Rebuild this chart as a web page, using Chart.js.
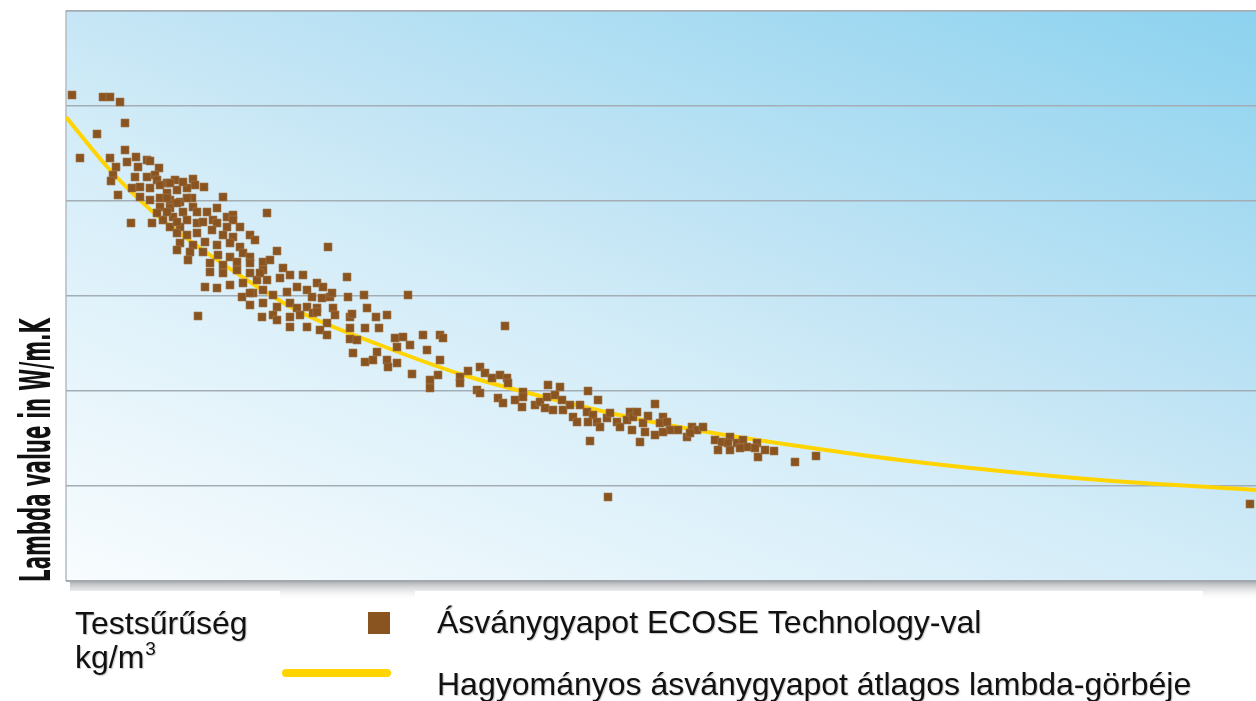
<!DOCTYPE html>
<html>
<head>
<meta charset="utf-8">
<script src="https://cdn.jsdelivr.net/npm/chart.js@4/dist/chart.umd.min.js"></script>
<style>
html,body{margin:0;padding:0;background:#fff;}
#c{display:block;}
</style>
</head>
<body>
<canvas id="c" width="1256" height="701"></canvas>
<script>
// Density (relative units, 0..119) and lambda (relative units, grid step 19)
const ecoseDensity = [
0.6,3.7,4.4,5.4,5.9,3.1,1.4,5.9,4.4,7.0,6.1,8.1,8.4,5.0,7.2,9.3,4.7,4.5,6.9,8.1,
8.9,9.1,6.6,7.4,8.4,5.2,10.1,10.9,12.7,12.9,13.8,10.1,11.1,12.1,15.7,7.4,8.4,9.4,10.4,11.4,
12.6,9.4,10.4,11.7,12.7,14.1,15.1,16.1,16.7,16.7,6.5,8.6,9.7,10.7,12.1,13.1,14.7,17.4,10.4,11.4,
9.4,10.4,11.7,20.1,10.1,11.1,12.1,9.1,10.1,13.1,11.1,13.7,15.1,14.6,16.1,11.1,12.1,13.1,15.7,16.7,
18.4,18.9,11.4,12.7,13.9,15.1,16.4,17.4,11.1,12.4,13.7,15.2,16.4,17.7,18.4,21.1,26.2,12.2,14.4,15.7,
17.1,18.4,19.7,20.4,14.4,15.7,17.1,18.4,19.7,21.7,22.4,23.7,13.9,15.1,16.4,17.7,19.1,20.1,21.4,25.1,
25.7,17.6,18.7,19.7,20.7,22.1,23.1,24.1,24.6,25.6,26.4,18.4,19.7,21.1,22.4,23.1,24.1,25.1,13.2,19.6,
20.7,21.1,22.4,24.7,26.7,26.9,28.1,28.2,28.4,22.4,24.1,26.1,19.4,26.6,29.8,34.2,18.4,30.1,23.4,25.1,
28.6,32.1,31.0,25.4,26.1,28.4,29.9,31.3,28.4,29.1,32.9,33.7,35.7,37.4,37.7,33.1,34.4,28.7,31.1,36.1,
29.9,30.7,32.1,32.2,33.1,34.6,37.4,37.2,36.4,36.4,39.4,39.4,40.2,41.4,41.9,42.6,43.4,44.1,44.2,41.1,
41.4,43.2,43.7,44.9,45.7,45.7,45.6,46.9,47.4,47.9,48.7,48.2,49.4,48.1,48.9,49.6,49.7,50.4,52.2,53.2,
51.4,50.7,51.1,52.1,52.7,52.2,53.1,53.4,54.1,54.4,55.1,55.4,56.1,56.4,56.7,52.4,56.6,54.2,58.9,57.1,
57.4,57.7,58.2,57.9,58.9,59.7,59.4,60.1,60.4,59.7,61.2,62.1,62.6,63.1,63.7,62.4,64.9,65.6,66.4,66.2,
65.2,66.4,67.1,67.7,68.1,67.4,69.1,68.9,69.2,69.9,70.8,72.9,75.0,43.9,118.4
];
const ecoseLambda = [
97.2,96.8,96.8,95.8,91.6,89.4,84.6,86.2,84.6,84.8,83.8,84.2,84.0,82.8,82.8,82.6,81.2,80.0,80.8,80.8,
81.2,80.2,78.6,78.8,78.6,77.2,79.6,80.2,80.4,79.2,78.8,77.6,78.2,78.6,76.8,76.8,76.2,76.6,76.2,75.8,
76.6,74.8,74.6,73.8,74.8,73.8,74.6,72.8,73.2,72.2,71.6,71.6,72.2,72.8,72.2,71.6,72.2,70.8,70.8,70.8,
79.2,79.6,79.8,73.6,76.6,75.6,76.6,73.6,73.8,73.8,71.8,71.8,71.6,70.2,70.8,69.6,69.2,69.6,69.2,68.8,
69.2,68.2,67.6,67.2,67.8,67.2,67.6,66.8,66.2,65.8,65.8,65.2,64.8,65.6,64.8,66.0,66.8,64.2,63.6,63.2,
63.8,63.6,63.8,64.2,61.8,61.6,62.2,61.6,62.2,62.6,61.2,61.2,58.8,58.6,59.2,59.6,60.2,60.2,60.6,59.6,
58.8,56.8,57.6,58.2,57.2,57.8,58.8,58.2,56.8,56.6,56.8,55.2,55.6,54.8,55.6,54.6,54.8,54.6,53.0,52.8,
53.2,52.2,52.8,53.6,54.6,53.2,60.8,56.8,52.8,50.8,50.8,51.6,61.6,57.6,57.2,57.2,57.6,54.6,53.2,53.8,
53.4,53.2,52.8,50.2,49.2,50.6,50.6,50.6,48.4,48.2,48.6,48.8,49.2,49.2,48.6,46.8,47.2,45.6,45.8,46.2,
43.8,44.2,44.2,42.8,43.6,41.4,44.2,41.2,40.2,38.6,40.8,39.6,42.0,42.8,41.6,40.6,41.2,40.6,39.6,38.2,
37.6,36.6,35.6,36.2,37.8,36.8,34.8,35.2,35.8,34.6,34.2,39.2,38.8,36.8,37.2,36.2,34.2,35.2,38.0,36.2,
35.2,32.8,31.8,33.8,33.2,31.8,31.8,30.8,32.6,33.6,31.8,30.8,32.2,33.8,32.8,28.0,30.2,16.8,35.4,33.8,
27.8,31.6,33.0,29.8,29.2,32.8,31.6,31.8,30.2,29.8,30.2,28.8,30.8,30.2,30.8,29.6,28.2,27.8,28.8,27.6,
26.2,26.2,27.6,28.2,26.8,26.6,27.6,26.6,24.8,26.2,26.0,23.8,25.0,51.0,15.4
];
const curveDensity = [0,4.4,8.7,13.4,18.4,23.4,31.4,39.4,47.4,56.7,64.7,77.4,83.4,93.4,103.4,119];
const curveLambda  = [92.8,82.2,73.8,66.6,59.8,53.8,47.2,41.4,37.0,32.6,29.6,25.8,24.2,22.0,20.2,18.2];

const axisTitle = 'Lambda value in W/m.K';
const xTitleLines = ['Testsűrűség', 'kg/m', '3'];
const seriesNames = ['Ásványgyapot ECOSE Technology-val', 'Hagyományos ásványgyapot átlagos lambda-görbéje'];

const brown = '#8a5421';
const yellow = '#ffd400';

const ecosePoints = ecoseDensity.map((x, i) => ({x, y: ecoseLambda[i]}));
const curvePoints = curveDensity.map((x, i) => ({x, y: curveLambda[i]}));

const decor = {
  id: 'decor',
  beforeDraw(chart) {
    const {ctx, chartArea: a} = chart;
    ctx.save();
    const sh = ctx.createLinearGradient(0, a.bottom, 0, a.bottom + 20);
    sh.addColorStop(0, 'rgba(110,115,120,0.6)');
    sh.addColorStop(1, 'rgba(255,255,255,0)');
    ctx.fillStyle = sh;
    ctx.fillRect(a.left + 4, a.bottom, a.right - a.left, 20);
    const w = a.right - a.left, h = a.bottom - a.top;
    const g = ctx.createLinearGradient(a.left, a.bottom, a.left + 0.294 * w, a.bottom - 1.574 * h);
    g.addColorStop(0, '#f8fcfe');
    g.addColorStop(0.45, '#d2ecf8');
    g.addColorStop(0.55, '#c6e6f5');
    g.addColorStop(1, '#8cd2ef');
    ctx.fillStyle = g;
    ctx.fillRect(a.left, a.top, w, h);
    ctx.strokeStyle = '#b4bcc3';
    ctx.lineWidth = 1.5;
    ctx.beginPath();
    ctx.moveTo(a.left, a.bottom);
    ctx.lineTo(a.left, a.top);
    ctx.lineTo(a.right, a.top);
    ctx.stroke();
    ctx.restore();
  },
  afterDraw(chart) {
    const {ctx, chartArea: a} = chart;
    ctx.save();
    ctx.strokeStyle = '#a2a8ae';
    ctx.lineWidth = 2;
    ctx.beginPath();
    ctx.moveTo(a.left, a.bottom);
    ctx.lineTo(a.right, a.bottom);
    ctx.stroke();
    ctx.fillStyle = '#ffffff';
    ctx.fillRect(0, 591, 280, 110);
    ctx.fillRect(415, 591, 788, 110);
    const gs = ctx.createLinearGradient(0, 596, 0, 612);
    gs.addColorStop(0, 'rgba(255,255,255,0)');
    gs.addColorStop(1, 'rgba(255,255,255,1)');
    ctx.fillStyle = gs;
    ctx.fillRect(280, 596, 135, 16);
    ctx.fillStyle = '#fff';
    ctx.fillRect(280, 612, 135, 89);

    ctx.save();
    ctx.translate(50, 450);
    ctx.rotate(-Math.PI / 2);
    ctx.fillStyle = '#111';
    ctx.textAlign = 'center';
    ctx.textBaseline = 'alphabetic';
    ctx.font = 'bold 43px "DejaVu Sans Condensed", "DejaVu Sans", sans-serif';
    ctx.fillText(axisTitle, 0, 0, 264);
    ctx.restore();

    ctx.shadowColor = 'rgba(0,0,0,0.22)';
    ctx.shadowOffsetX = 1;
    ctx.shadowOffsetY = 1;
    ctx.shadowBlur = 1;
    ctx.fillStyle = '#111';
    ctx.textAlign = 'left';
    ctx.textBaseline = 'alphabetic';
    ctx.font = '32px "Liberation Sans", Arial, sans-serif';
    ctx.fillText(xTitleLines[0], 75, 634);
    ctx.fillText(xTitleLines[1], 75, 668);
    const km = ctx.measureText(xTitleLines[1]).width;
    ctx.font = '19px "Liberation Sans", Arial, sans-serif';
    ctx.fillText(xTitleLines[2], 75 + km + 1, 655);
    ctx.font = '32px "Liberation Sans", Arial, sans-serif';
    ctx.fillText(seriesNames[0], 437, 633);
    ctx.fillText(seriesNames[1], 437, 695);
    ctx.shadowColor = 'rgba(0,0,0,0)';

    ctx.fillStyle = brown;
    ctx.fillRect(368, 612, 22, 22);
    ctx.strokeStyle = yellow;
    ctx.lineWidth = 8;
    ctx.lineCap = 'round';
    ctx.beginPath();
    ctx.moveTo(286, 673);
    ctx.lineTo(387, 673);
    ctx.stroke();
    ctx.restore();
  }
};

new Chart(document.getElementById('c'), {
  type: 'scatter',
  data: {
    datasets: [
      {
        label: seriesNames[0],
        data: ecosePoints,
        pointStyle: 'rect',
        pointRadius: 5.7,
        pointHoverRadius: 5.7,
        backgroundColor: brown,
        borderColor: '#a57a50',
        borderWidth: 0.6,
        order: 1
      },
      {
        type: 'line',
        label: seriesNames[1],
        data: curvePoints,
        showLine: true,
        borderColor: yellow,
        borderWidth: 4,
        pointRadius: 0,
        fill: false,
        cubicInterpolationMode: 'monotone',
        order: 2
      }
    ]
  },
  options: {
    responsive: false,
    animation: false,
    devicePixelRatio: 1,
    layout: { autoPadding: false, padding: { left: 66, top: 11, right: 0, bottom: 120 } },
    scales: {
      x: { type: 'linear', min: 0, max: 119, display: false },
      y: {
        min: 0, max: 114,
        ticks: { display: false, stepSize: 19 },
        grid: { color: '#a3adb5', lineWidth: 1.6, drawTicks: false },
        border: { display: false },
        afterFit: s => { s.width = 0; }
      }
    },
    plugins: { legend: { display: false }, tooltip: { enabled: false } }
  },
  plugins: [decor]
});
</script>
</body>
</html>
